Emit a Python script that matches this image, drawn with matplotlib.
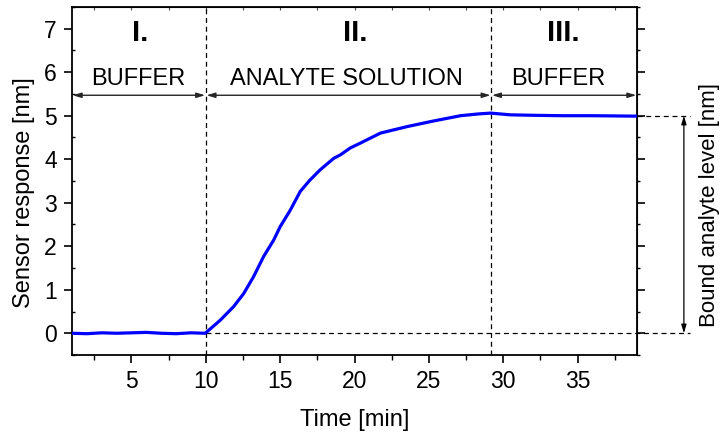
import matplotlib
matplotlib.use("Agg")
import matplotlib.pyplot as plt
import matplotlib.transforms as mtransforms

plt.rcParams['font.family'] = ['Liberation Sans', 'DejaVu Sans']

# sensorgram: time [min] vs. response [nm]
time_min = [1, 2, 3, 4, 5, 6, 7, 8, 9, 9.96,
            10.97, 11.86, 12.54, 13.21, 13.88, 14.56, 15.0, 15.68, 16.35,
            17.0, 17.7, 18.6, 19.05, 19.72, 20.39, 21.74, 23.54, 25.33,
            27.13, 28.3, 29.15, 30.5, 32, 34, 36, 39]
response_nm = [0.0, -0.01, 0.01, 0.0, 0.01, 0.02, 0.0, -0.01, 0.01, 0.0,
               0.30, 0.61, 0.91, 1.30, 1.76, 2.14, 2.45, 2.83, 3.26,
               3.52, 3.76, 4.02, 4.10, 4.26, 4.37, 4.60, 4.75, 4.88,
               5.0, 5.04, 5.06, 5.02, 5.01, 5.0, 5.0, 4.99]

phase_edges = [1, 10, 29.2, 39]
phase_names = ["BUFFER", "ANALYTE SOLUTION", "BUFFER"]
phase_numbers = ["I.", "II.", "III."]
bound_level = 5.0

fig = plt.figure(figsize=(7.21, 4.34), dpi=100)
ax = fig.add_axes([0.0999, 0.182, 0.7836, 0.802])

ax.plot(time_min, response_nm, color=(0, 0, 1), lw=2.3, zorder=3)

ax.set_xlim(1, 39)
ax.set_ylim(-0.5, 7.5)
ax.set_xticks([5, 10, 15, 20, 25, 30, 35])
ax.set_xticks([2.5 + 5 * i for i in range(8)], minor=True)
ax.set_yticks(range(0, 8))
ax.set_yticks([0.5 + i for i in range(-1, 8)], minor=True)

ax.tick_params(axis='both', which='major', labelsize=16.5, width=1.2)
ax.tick_params(axis='x', which='major', direction='out', length=6, pad=5)
ax.tick_params(axis='x', which='minor', direction='out', length=3.5, width=1)
ax.tick_params(axis='y', which='major', direction='out', length=6, pad=5)
ax.tick_params(axis='y', which='minor', direction='in', length=2.5, width=1)
for s in ax.spines.values():
    s.set_linewidth(1.3)

# mirrored ticks on top (inward) and right (outward)
top = ax.secondary_xaxis('top')
top.set_xticks([2.5 * i for i in range(1, 16)])
top.tick_params(direction='in', length=2.5, width=0.8, labeltop=False, color='0.3')
right = ax.secondary_yaxis('right')
right.set_yticks(range(0, 8))
right.set_yticks([0.5 + i for i in range(-1, 8)], minor=True)
right.tick_params(which='major', direction='out', length=6, width=1.2, labelright=False)
right.tick_params(which='minor', direction='out', length=2.5, width=1)

ax.set_xlabel("Time [min]", fontsize=17)
ax.set_ylabel("Sensor response [nm]", fontsize=17)
ax.xaxis.set_label_coords(0.5, -0.155)
ax.yaxis.set_label_coords(-0.065, 0.466)

dash = dict(color='black', lw=0.9, ls=(0, (4, 3)))
for x in phase_edges[1:3]:
    ax.axvline(x, zorder=1, **dash)

# dashed guides at zero and at the bound level, running out past the axes
blend = mtransforms.blended_transform_factory(ax.transAxes, ax.transData)
x10 = (10 - 1) / 38
ax.plot([x10, 1.094], [0, 0], transform=blend, clip_on=False, zorder=1, **dash)
ax.plot([1.0, 1.094], [bound_level, bound_level], transform=blend, clip_on=False, **dash)

ax.annotate("", xy=(1.083, 0), xytext=(1.083, bound_level), xycoords=blend,
            textcoords=blend, annotation_clip=False,
            arrowprops=dict(arrowstyle='<|-|>,head_length=0.5,head_width=0.15',
                            color='black', lw=0.9, shrinkA=0, shrinkB=0))
ax.text(1.129, 2.95, "Bound analyte level [nm]", transform=blend, rotation=90,
        ha='center', va='center', fontsize=16)

# phase arrows, names and numbers
arrow_y = 5.47
for i in range(3):
    x0, x1 = phase_edges[i], phase_edges[i + 1]
    ax.annotate("", xy=(x0, arrow_y), xytext=(x1, arrow_y), annotation_clip=False,
                arrowprops=dict(arrowstyle='<|-|>,head_length=0.5,head_width=0.15',
                                color='0.15', lw=1, shrinkA=0.5, shrinkB=0.5))
name_x = [5.45, 19.45, 33.7]
num_x = [5.58, 20.06, 34.06]
for i in range(3):
    ax.text(name_x[i], 5.84, phase_names[i], ha='center', va='center', fontsize=17)
    ax.text(num_x[i], 6.9, phase_numbers[i], ha='center', va='center',
            fontsize=21, fontweight='bold')

fig.savefig("out.png", dpi=100)
